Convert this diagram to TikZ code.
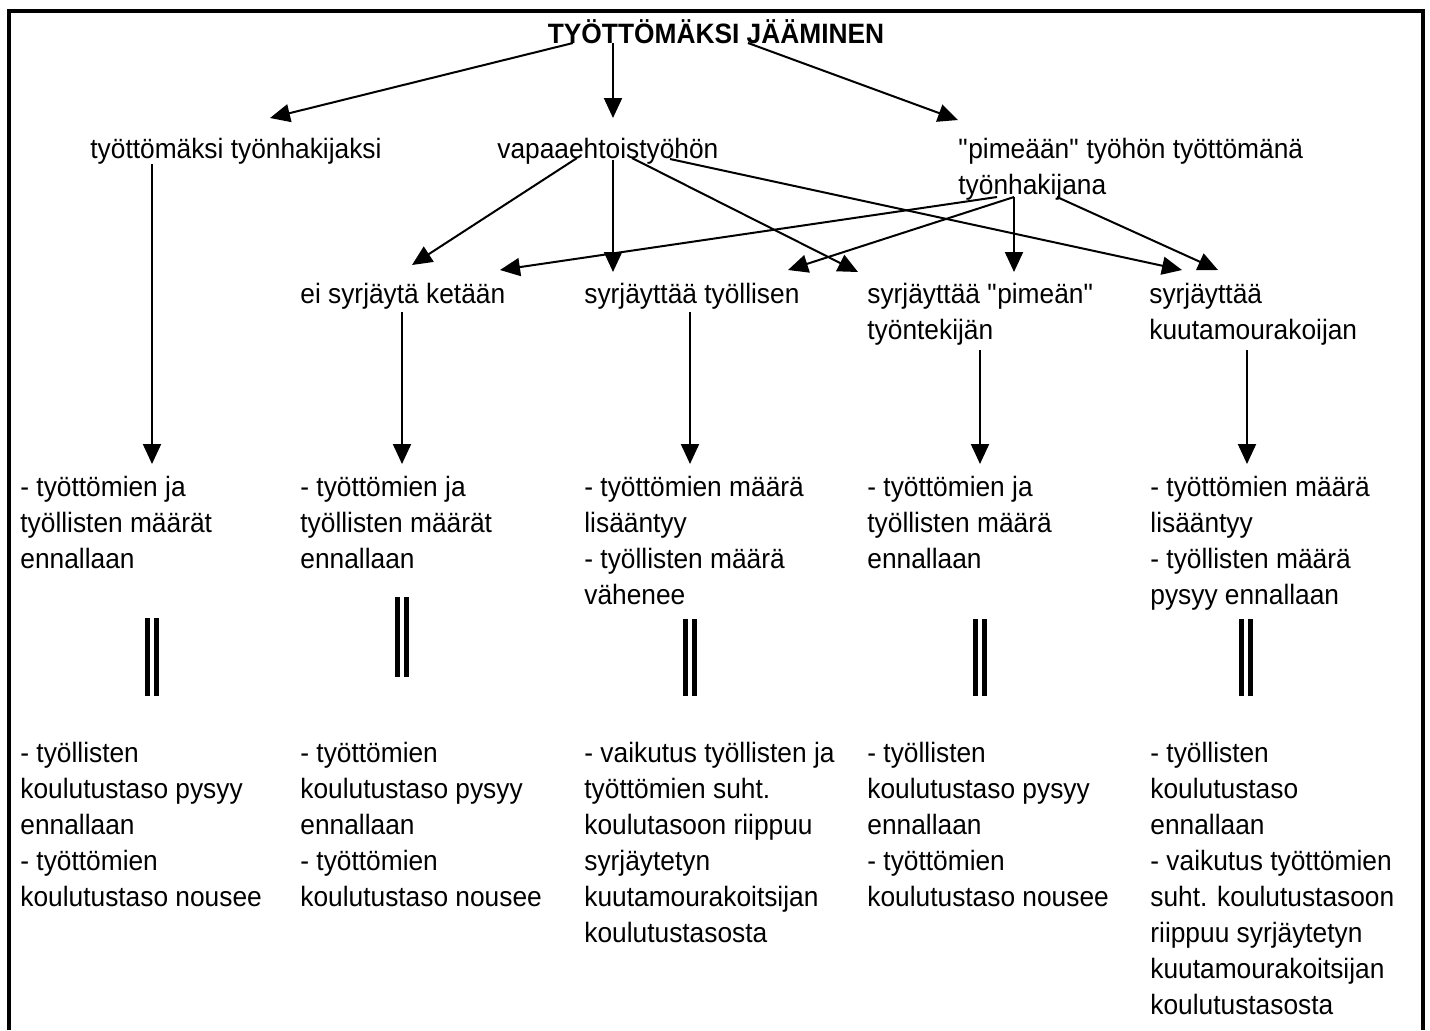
\documentclass[tikz,border=0pt]{standalone}
\usepackage{fontspec}
\setmainfont{Liberation Sans}[FakeStretch=0.94]
\usepackage{tikz}
\usetikzlibrary{calc,arrows.meta}
\newcommand{\linesleft}[1]{\begin{tabular}[t]{@{}l@{}}#1\end{tabular}}

\begin{document}
\begin{tikzpicture}[x=0.5pt, y=-0.5pt,
    txt/.style={inner sep=0pt, anchor=base west, font=\fontsize{14pt}{18pt}\selectfont},
    arr/.style={line width=1pt, -{Triangle[length=10pt, width=9pt]}},
    eqbar/.style={line width=2.5pt, double, double distance=1.75pt}]
  \useasboundingbox (0,0) rectangle (1430,1030);
  \draw[line width=2pt] (9,1030) -- (9,11) -- (1423,11) -- (1423,1030);

  \node[txt, anchor=base, font=\fontsize{14pt}{18pt}\selectfont\bfseries] (top) at (716,43) {TYÖTTÖMÄKSI JÄÄMINEN};

  \node[txt] (tyonhak) at (90,158) {työttömäksi työnhakijaksi};
  \node[txt] (vapaa) at (497,158) {vapaaehtoistyöhön};
  \node[txt] (pimea) at (958,158) {\linesleft{\textquotedbl pimeään\textquotedbl{} työhön työttömänä\\työnhakijana}};

  \node[txt] (eisyr) at (300,303) {ei syrjäytä ketään};
  \node[txt] (tyollinen) at (584,303) {syrjäyttää työllisen};
  \node[txt] (pimeatek) at (867,303) {\linesleft{syrjäyttää \textquotedbl pimeän\textquotedbl\\työntekijän}};
  \node[txt] (kuuta) at (1149,303) {\linesleft{syrjäyttää\\kuutamourakoijan}};

  \node[txt] (maara1) at (20,496) {\linesleft{- työttömien ja\\työllisten määrät\\ennallaan}};
  \node[txt] (maara2) at (300,496) {\linesleft{- työttömien ja\\työllisten määrät\\ennallaan}};
  \node[txt] (maara3) at (584,496) {\linesleft{- työttömien määrä\\lisääntyy\\- työllisten määrä\\vähenee}};
  \node[txt] (maara4) at (867,496) {\linesleft{- työttömien ja\\työllisten määrä\\ennallaan}};
  \node[txt] (maara5) at (1150,496) {\linesleft{- työttömien määrä\\lisääntyy\\- työllisten määrä\\pysyy ennallaan}};

  \node[txt] (taso1) at (20,762) {\linesleft{- työllisten\\koulutustaso pysyy\\ennallaan\\- työttömien\\koulutustaso nousee}};
  \node[txt] (taso2) at (300,762) {\linesleft{- työttömien\\koulutustaso pysyy\\ennallaan\\- työttömien\\koulutustaso nousee}};
  \node[txt] (taso3) at (584,762) {\linesleft{- vaikutus työllisten ja\\työttömien suht.\\koulutasoon riippuu\\syrjäytetyn\\kuutamourakoitsijan\\koulutustasosta}};
  \node[txt] (taso4) at (867,762) {\linesleft{- työllisten\\koulutustaso pysyy\\ennallaan\\- työttömien\\koulutustaso nousee}};
  \node[txt] (taso5) at (1150,762) {\linesleft{- työllisten\\koulutustaso\\ennallaan\\- vaikutus työttömien\\suht. koulutustasoon\\riippuu syrjäytetyn\\kuutamourakoitsijan\\koulutustasosta}};

  \draw[arr] ($(top.base)+(-143,0)$) -- ($(tyonhak.base west)+(180,-40)$);
  \draw[arr] ($(top.base)+(-103,0)$) -- ($(vapaa.base west)+(116,-40)$);
  \draw[arr] ($(top.base)+(32,0)$) -- ($(pimea.base west)+(0,-38)$);

  \draw[arr] ($(vapaa.base west)+(80,0)$) -- ($(eisyr.base west)+(112,-38)$);
  \draw[arr] ($(vapaa.base west)+(116,2)$) -- ($(tyollinen.base west)+(29,-31)$);
  \draw[arr] ($(vapaa.base west)+(135,0)$) -- ($(pimeatek.base west)+(-9,-31)$);
  \draw[arr] ($(vapaa.base west)+(173,1)$) -- ($(kuuta.base west)+(33,-33)$);

  \draw[arr] ($(pimea.base west)+(39,39)$) -- ($(eisyr.base west)+(200,-33)$);
  \draw[arr] ($(pimea.base west)+(56,39)$) -- ($(tyollinen.base west)+(204,-33)$);
  \draw[arr] ($(pimea.base west)+(56,39)$) -- ($(pimeatek.base west)+(147,-31)$);
  \draw[arr] ($(pimea.base west)+(99,39)$) -- ($(kuuta.base west)+(69,-33)$);

  \draw[arr] ($(tyonhak.base west)+(62,6)$) -- ($(maara1.base west)+(132,-32)$);
  \draw[arr] ($(eisyr.base west)+(102,9)$) -- ($(maara2.base west)+(102,-32)$);
  \draw[arr] ($(tyollinen.base west)+(106,9)$) -- ($(maara3.base west)+(106,-32)$);
  \draw[arr] ($(pimeatek.base west)+(113,47)$) -- ($(maara4.base west)+(113,-32)$);
  \draw[arr] ($(kuuta.base west)+(98,47)$) -- ($(maara5.base west)+(97,-32)$);

  \draw[eqbar] ($(maara1.base west)+(132,122)$) -- ($(taso1.base west)+(132,-66)$);
  \draw[eqbar] ($(maara2.base west)+(102,101)$) -- ($(taso2.base west)+(102,-85)$);
  \draw[eqbar] ($(maara3.base west)+(106,123)$) -- ($(taso3.base west)+(106,-66)$);
  \draw[eqbar] ($(maara4.base west)+(113,123)$) -- ($(taso4.base west)+(113,-66)$);
  \draw[eqbar] ($(maara5.base west)+(96,123)$) -- ($(taso5.base west)+(96,-66)$);
\end{tikzpicture}
\end{document}
